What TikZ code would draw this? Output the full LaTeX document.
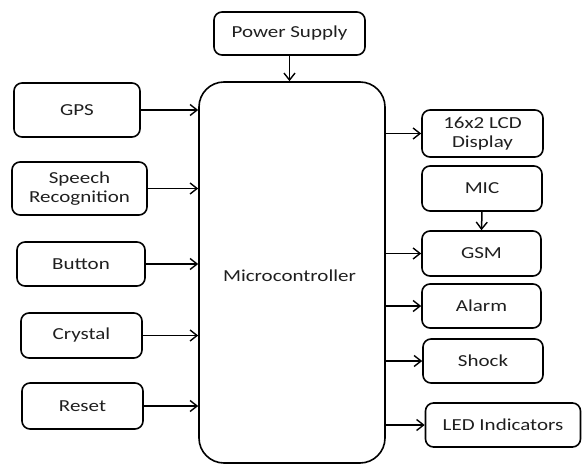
\documentclass[tikz,border=0pt]{standalone}
\usepackage{fontspec}
\setmainfont[FakeStretch=1.25]{Carlito}
\usetikzlibrary{arrows.meta}
\begin{document}
\begin{tikzpicture}[x=1pt,y=-1pt,
  every node/.style={font=\fontsize{16.8}{19.5}\selectfont, text=black!88},
  blk/.style={draw=black, line width=1.6pt, rounded corners=8pt, align=center, inner sep=0pt},
  conn/.style={draw=black, line width=1.5pt, -{Straight Barb[length=7pt,width=11pt,line width=1.4pt]}}]
\useasboundingbox (0,0) rectangle (582,466);
\node[blk, minimum width=151, minimum height=43] (pwr) at (289.5,33.5) {Power Supply};
\node[blk, rounded corners=25pt, minimum width=186, minimum height=381] (mc) at (292,272.5) {};
\node at (289.5,276) (mclabel) {Microcontroller};
\node[blk, minimum width=126, minimum height=54] (gps) at (77,110) {GPS};
\node[blk, minimum width=135, minimum height=53] (sr) at (79.5,188.5) {Speech\\Recognition};
\node[blk, minimum width=128, minimum height=44] (btn) at (81,264) {Button};
\node[blk, minimum width=121, minimum height=45] (cry) at (81.5,335.5) {Crystal};
\node[blk, minimum width=121, minimum height=46] (rst) at (82.5,406) {Reset};
\node[blk, minimum width=121, minimum height=47] (lcd) at (482.5,133.5) {16x2 LCD\\Display};
\node[blk, minimum width=120, minimum height=45] (mic) at (482,188.5) {MIC};
\node[blk, minimum width=119, minimum height=45] (gsm) at (481.5,253.5) {GSM};
\node[blk, minimum width=119, minimum height=44] (alm) at (481.5,306) {Alarm};
\node[blk, minimum width=120, minimum height=44] (shk) at (483,361) {Shock};
\node[blk, minimum width=155, minimum height=44] (led) at (503,425) {LED Indicators};
\draw[conn] (pwr.south) -- (pwr.south |- mc.north);
\foreach \n in {gps,sr,btn,cry,rst} {
  \draw[conn] (\n.east) -- (\n.east -| mc.west);
}
\foreach \n in {lcd,gsm,alm,shk,led} {
  \draw[conn] (\n.west -| mc.east) -- (\n.west);
}
\draw[conn] (mic.south) -- (gsm.north);
\end{tikzpicture}
\end{document}
